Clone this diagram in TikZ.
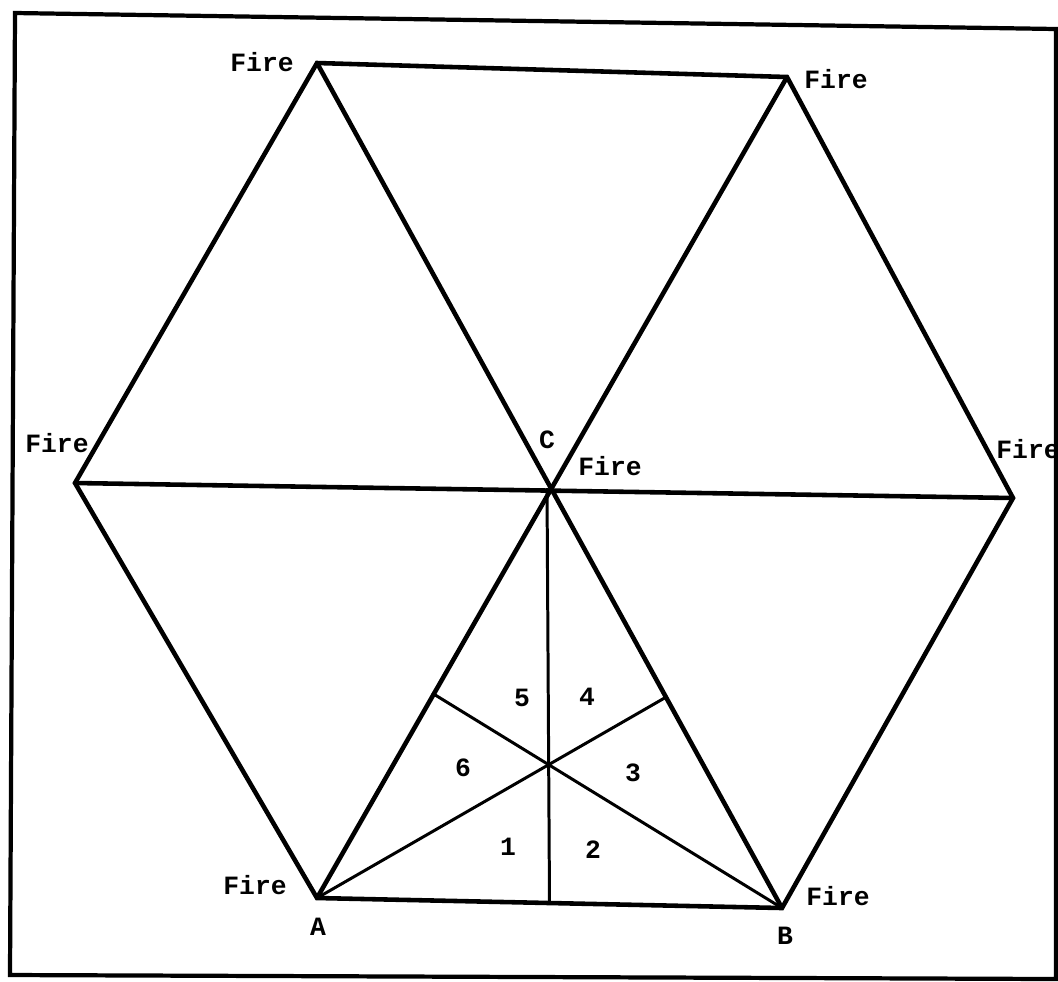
\documentclass[tikz,border=0pt]{standalone}
\usepackage{fontspec}
\setmonofont{Liberation Mono}
\usepackage{tikz}
\usetikzlibrary{calc}

\begin{document}
\begin{tikzpicture}[
  x=0.01cm, y=-0.01cm,
  edge/.style={line width=1.3pt, line join=miter},
  median/.style={line width=0.85pt},
  frame/.style={line width=1.2pt},
  lbl/.style={font=\ttfamily\bfseries\fontsize{7.5}{9}\selectfont, inner sep=0pt}
]
  \useasboundingbox (0,0) rectangle (1058,981);

  % Frame
  \draw[frame] (15,13) -- (1056,29) -- (1056,979) -- (10,975) -- cycle;

  % Hexagon vertices
  \coordinate (tl) at (317,63);
  \coordinate (tr) at (787,77);
  \coordinate (l) at (75,483);
  \coordinate (r) at (1013,498);
  \coordinate (C) at (547,488);
  \coordinate (A) at (317,898);
  \coordinate (B) at (782,908);

  % Medians of triangle ABC
  \coordinate (mab) at ($(A)!0.5!(B)$);
  \coordinate (mbc) at ($(B)!0.5!(C)$);
  \coordinate (mac) at ($(A)!0.5!(C)$);

  % Hexagon and spokes
  \draw[edge] (tl) -- (tr) -- (r) -- (B) -- (A) -- (l) -- cycle;
  \draw[edge] (tl) -- (B);
  \draw[edge] (tr) -- (A);
  \draw[edge] (l) -- (r);

  \draw[median] (C) -- (mab);
  \draw[median] (A) -- (mbc);
  \draw[median] (B) -- (mac);

  % Labels
  \node[lbl] (fire-tl) at (262,62) {Fire};
  \node[lbl] (fire-tr) at (836,79) {Fire};
  \node[lbl] (fire-l) at (57,443) {Fire};
  \node[lbl] (fire-c) at (610,466) {Fire};
  \node[lbl] (fire-r) at (1028,449) {Fire};
  \node[lbl] (fire-a) at (255,885) {Fire};
  \node[lbl] (fire-b) at (838,896) {Fire};
  \node[lbl] (lbl-c) at (547,440) {C};
  \node[lbl] (lbl-a) at (318,927) {A};
  \node[lbl] (lbl-b) at (785,936) {B};

  % Sector numbers
  \node[lbl] (n1) at (508,847) {1};
  \node[lbl] (n2) at (593,850) {2};
  \node[lbl] (n3) at (633,773) {3};
  \node[lbl] (n4) at (587,697) {4};
  \node[lbl] (n5) at (522,698) {5};
  \node[lbl] (n6) at (463,768) {6};
\end{tikzpicture}
\end{document}
